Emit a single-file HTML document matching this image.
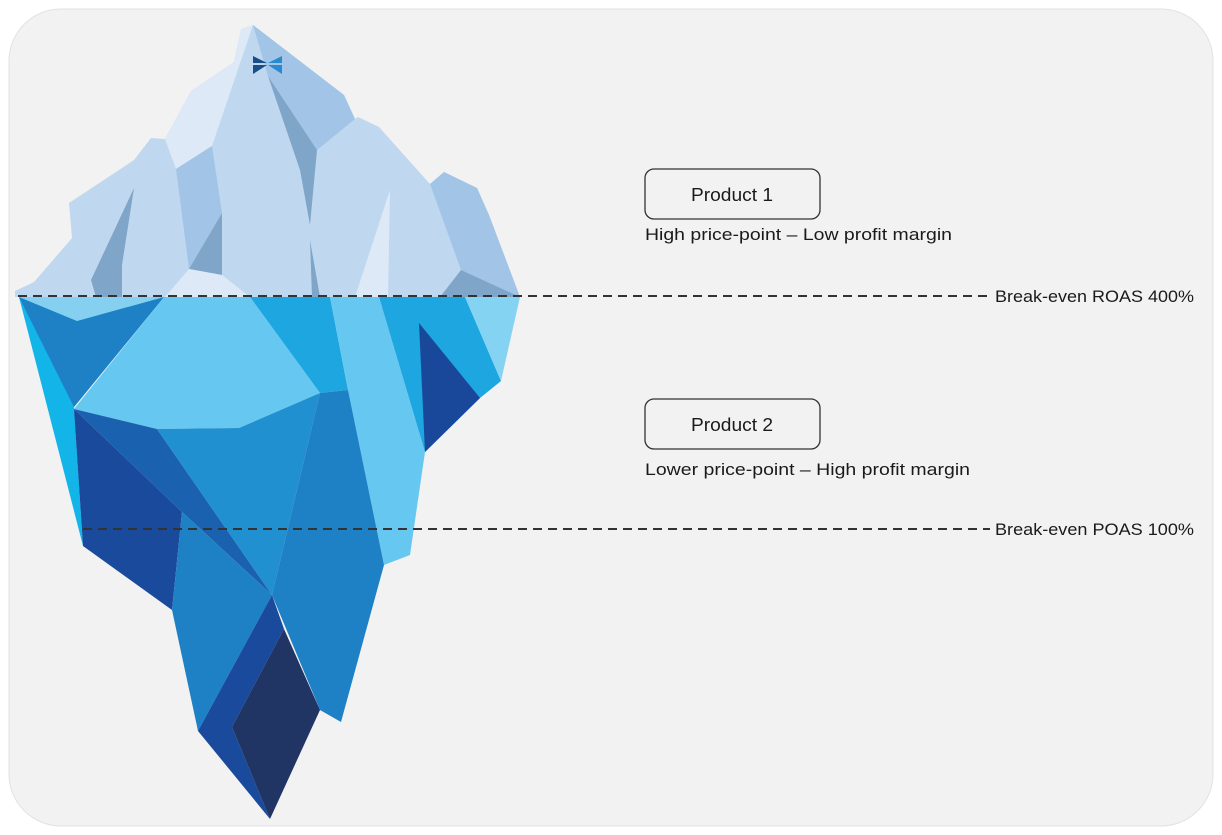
<!DOCTYPE html>
<html><head><meta charset="utf-8"><style>
html,body{margin:0;padding:0;background:#fff;}
svg{display:block;}
text{font-family:"Liberation Sans",sans-serif;fill:#1a1a1a;}
</style></head><body>
<svg width="1222" height="835" viewBox="0 0 1222 835" xmlns="http://www.w3.org/2000/svg">
<rect x="9" y="9" width="1204" height="817" rx="52" fill="#f2f2f2" stroke="#e2e2e2" stroke-width="1"/>
<!-- above water -->
<polygon points="253,25 344,95 355,119 358,117 379,127 430,184 444,172 477,188 489,215 520,297 15,297 15,291 34,282 72,238 69,203 134,160 151,138 165,139 191,91 234,62 241,29" fill="#c0d8ef"/>
<polygon points="253,25 241,29 234,62 191,91 165,139 176,169 212,146" fill="#dde9f6"/>
<polygon points="253,25 344,95 355,119 317,150 268,76" fill="#a2c4e6"/>
<polygon points="268,76 317,150 310,225 300,170" fill="#7fa5c9"/>
<polygon points="176,169 212,146 222,213 189,269" fill="#a2c4e6"/>
<polygon points="189,269 222,213 222,275" fill="#7fa5c9"/>
<polygon points="189,269 222,275 250,297 165,297" fill="#dde9f6"/>
<polygon points="91,280 134,188 122,265 122,297 96,297" fill="#7fa5c9"/>
<polygon points="390,190 355,297 388,297" fill="#dde9f6"/>
<polygon points="310,240 320,297 312,297" fill="#7fa5c9"/>
<polygon points="430,184 444,172 477,188 489,215 520,297 461,270" fill="#a2c4e6"/>
<polygon points="461,270 520,297 440,297" fill="#7fa5c9"/>
<!-- logo -->
<polygon points="253,56 267,63 253,63" fill="#1a4e8a"/><polygon points="253,74 267,65 253,65" fill="#1a4e8a"/>
<polygon points="282,56 268,63 282,63" fill="#2a8ad0"/><polygon points="282,74 268,65 282,65" fill="#2a8ad0"/>
<!-- underwater -->
<polygon points="19,297 164,297 74,407 83,546" fill="#13b5e8"/>
<polygon points="19,297 77,321 164,297 74,407" fill="#1e80c5"/>
<polygon points="19,297 77,321 164,297" fill="#85d0f0"/>
<polygon points="164,297 250,297 320,393 239,428 157,429 74,409" fill="#66c8f0"/>
<polygon points="250,297 330,297 348,390 320,393" fill="#1ea6e0"/>
<polygon points="330,297 379,297 425,452 410,555 384,565 348,390" fill="#66c8f0"/>
<polygon points="379,297 465,297 501,381 480,398 425,452" fill="#1ea6e0"/>
<polygon points="419,323 480,398 425,452" fill="#19479a"/>
<polygon points="465,297 520,297 501,381" fill="#85d3f2"/>
<polygon points="74,409 157,429 272,595 182,512" fill="#1a62b0"/>
<polygon points="74,409 182,512 172,610 83,546" fill="#1a4a9c"/>
<polygon points="157,429 239,428 320,393 272,595" fill="#2090d0"/>
<polygon points="320,393 348,390 384,565 341,722 320,710 272,595" fill="#1e80c5"/>
<polygon points="182,512 272,595 198,731 172,610" fill="#1e80c5"/>
<polygon points="272,595 284,629 232,727 270,819 198,731" fill="#1a4a9c"/>
<polygon points="284,629 320,710 270,819 232,727" fill="#203564"/>
<!-- dashed lines -->
<line x1="18" y1="296" x2="990" y2="296" stroke="#333" stroke-width="2" stroke-dasharray="9,6"/>
<line x1="83" y1="529" x2="990" y2="529" stroke="#333" stroke-width="2" stroke-dasharray="9,6"/>
<text x="995" y="302" font-size="17" textLength="199" lengthAdjust="spacingAndGlyphs">Break-even ROAS 400%</text>
<text x="995" y="535" font-size="17" textLength="199" lengthAdjust="spacingAndGlyphs">Break-even POAS 100%</text>
<!-- boxes -->
<rect x="645" y="169" width="175" height="50" rx="9" fill="#f2f2f2" stroke="#333" stroke-width="1.3"/>
<text x="691" y="201" font-size="18" textLength="82" lengthAdjust="spacingAndGlyphs">Product 1</text>
<text x="645" y="240" font-size="17" textLength="307" lengthAdjust="spacingAndGlyphs">High price-point – Low profit margin</text>
<rect x="645" y="399" width="175" height="50" rx="9" fill="#f2f2f2" stroke="#333" stroke-width="1.3"/>
<text x="691" y="431" font-size="18" textLength="82" lengthAdjust="spacingAndGlyphs">Product 2</text>
<text x="645" y="475" font-size="17" textLength="325" lengthAdjust="spacingAndGlyphs">Lower price-point – High profit margin</text>
</svg>
</body></html>
